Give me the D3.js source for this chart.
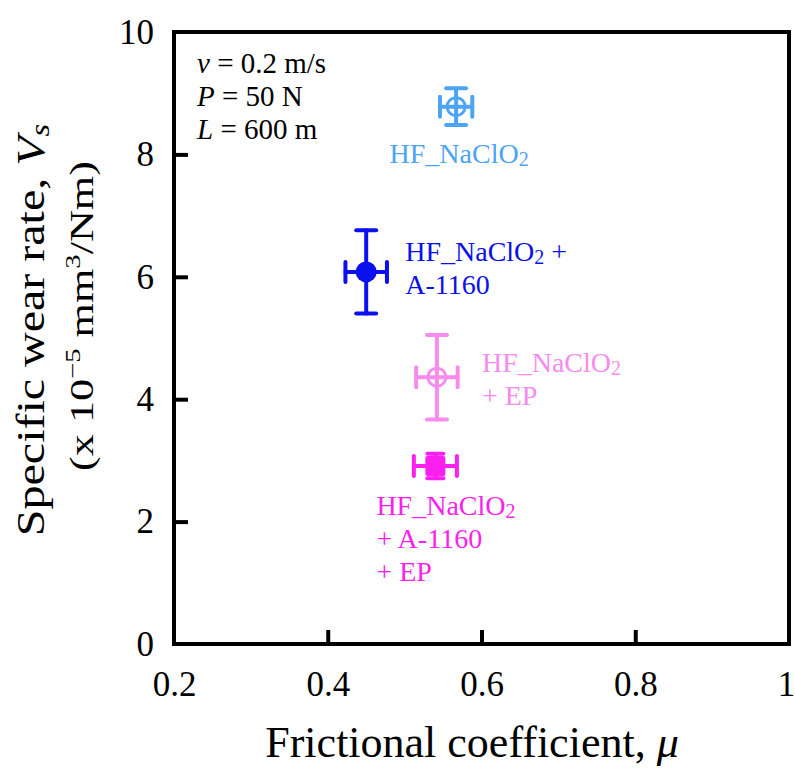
<!DOCTYPE html>
<html><head><meta charset="utf-8">
<script src="https://cdn.jsdelivr.net/npm/d3@7"></script>
<style>html,body{margin:0;padding:0;background:#fff;}svg{display:block;}</style>
</head><body>
<script>
// ---- data ----
const samples = ["HF_NaClO2", "HF_NaClO2 + A-1160", "HF_NaClO2 + EP", "HF_NaClO2 + A-1160 + EP"];
const mu = [0.567, 0.450, 0.542, 0.540];
const muErr = [0.021, 0.027, 0.027, 0.028];
const vs = [8.78, 6.08, 4.36, 2.91];
const vsErr = [0.30, 0.68, 0.69, 0.20];
const markerType = ["openCircle", "filledCircle", "openCircle", "filledSquare"];
const colors = ["#4ca4f4", "#0a10ee", "#f78bee", "#fb1ff0"];
const labelLines = [["HF_NaClO2"], ["HF_NaClO2 +", "A-1160"], ["HF_NaClO2", "+ EP"], ["HF_NaClO2", "+ A-1160", "+ EP"]];
const xTicks = [0.2, 0.4, 0.6, 0.8, 1];
const yTicks = [0, 2, 4, 6, 8, 10];
const conditions = [["v", " = 0.2 m/s"], ["P", " = 50 N"], ["L", " = 600 m"]];

// ---- layout ----
const FONT = "'Liberation Serif', 'Times New Roman', serif";
const W = 795, H = 769;
const svg = d3.select("body").append("svg").attr("width", W).attr("height", H).style("font-family", FONT);
const x = d3.scaleLinear().domain([0.2, 1]).range([174, 789]);
const y = d3.scaleLinear().domain([0, 10]).range([644, 32]);
const axisW = 4;

// frame
svg.append("rect").attr("x", x(0.2)).attr("y", y(10)).attr("width", x(1) - x(0.2)).attr("height", y(0) - y(10))
  .attr("fill", "none").attr("stroke", "#000").attr("stroke-width", axisW);

// axes
const xAxis = svg.append("g").attr("transform", `translate(0,${y(0)})`)
  .call(d3.axisBottom(x).tickValues(xTicks).tickSize(-14).tickPadding(27).tickFormat(d => d3.format("")(d)));
const yAxis = svg.append("g").attr("transform", `translate(${x(0.2)},0)`)
  .call(d3.axisLeft(y).tickValues(yTicks).tickSize(-14).tickPadding(20));
[xAxis, yAxis].forEach(g => {
  g.attr("font-family", null).attr("font-size", null);
  g.select(".domain").remove();
  g.selectAll(".tick line").attr("stroke", "#000").attr("stroke-width", axisW);
  g.selectAll(".tick text").attr("fill", "#000").style("font-size", "35px").style("font-family", FONT);
});
xAxis.selectAll(".tick text").attr("dy", "0.71em").filter(d => d === 1).attr("dx", -3);
// ticks at the frame ends coincide with the frame
xAxis.selectAll(".tick line").filter(d => d === 0.2 || d === 1).remove();
yAxis.selectAll(".tick line").filter(d => d === 0 || d === 10).remove();

// axis titles
const xt = svg.append("text").attr("x", 472).attr("y", 757).attr("text-anchor", "middle").style("font-size", "44px");
xt.append("tspan").text("Frictional coefficient, ");
xt.append("tspan").attr("font-style", "italic").text("μ");

const yt = svg.append("text").attr("transform", "translate(44,330) rotate(-90) scale(1.2,1)").attr("text-anchor", "middle").style("font-size", "40px");
yt.append("tspan").text("Specific wear rate, ");
yt.append("tspan").attr("font-style", "italic").text("V");
yt.append("tspan").attr("font-style", "italic").attr("font-size", "27px").attr("dy", 5).text("s");

const ys = svg.append("text").attr("transform", "translate(93,316) rotate(-90) scale(1.3,1)").attr("text-anchor", "middle").style("font-size", "34px");
ys.append("tspan").text("(x 10");
ys.append("tspan").attr("font-size", "22px").attr("dy", -13).text("−5");
ys.append("tspan").attr("dy", 13).text(" mm");
ys.append("tspan").attr("font-size", "22px").attr("dy", -13).text("3");
ys.append("tspan").attr("dy", 13).text("/Nm)");

// test conditions
conditions.forEach((c, i) => {
  const t = svg.append("text").attr("x", 197).attr("y", 73 + i * 33).style("font-size", "29px").attr("fill", "#000");
  t.append("tspan").attr("font-style", "italic").text(c[0]);
  t.append("tspan").text(c[1]);
});

// data points
const capHalf = 10;
samples.forEach((s, i) => {
  const g = svg.append("g").attr("stroke", colors[i]).attr("fill", colors[i]);
  const cx = x(mu[i]), cy = y(vs[i]);
  const x0 = x(mu[i] - muErr[i]), x1 = x(mu[i] + muErr[i]);
  const y0 = y(vs[i] - vsErr[i]), y1 = y(vs[i] + vsErr[i]);
  const ln = (a, b, c, d) => g.append("line").attr("x1", a).attr("y1", b).attr("x2", c).attr("y2", d)
    .attr("stroke-width", 4).attr("stroke-linecap", "round");
  ln(x0, cy, x1, cy);
  ln(cx, y0, cx, y1);
  const ch = markerType[i] === "filledSquare" ? 8 : capHalf;
  ln(x0, cy - capHalf, x0, cy + capHalf);
  ln(x1, cy - capHalf, x1, cy + capHalf);
  ln(cx - ch, y0, cx + ch, y0);
  ln(cx - ch, y1, cx + ch, y1);
  if (markerType[i] === "openCircle") {
    g.append("circle").attr("cx", cx).attr("cy", cy).attr("r", 9).attr("fill", "none").attr("stroke-width", 3);
  } else if (markerType[i] === "filledCircle") {
    g.append("circle").attr("cx", cx).attr("cy", cy).attr("r", 10.5).attr("stroke", "none");
  } else {
    g.append("rect").attr("x", cx - 10).attr("y", cy - 10).attr("width", 20).attr("height", 20).attr("rx", 2).attr("stroke", "none");
  }
});

// labels (offsets from each point)
const labelPos = [
  {dx: 3, dy: 56, anchor: "middle"},
  {dx: 39, dy: -11, anchor: "start"},
  {dx: 45, dy: -5, anchor: "start"},
  {dx: -59, dy: 49, anchor: "start"}
];
function addLine(t, str) {
  const k = str.indexOf("NaClO2");
  if (k < 0) { t.append("tspan").text(str); return; }
  t.append("tspan").text(str.slice(0, k + 5));
  t.append("tspan").attr("font-size", "20px").attr("dy", 3).text("2");
  const rest = str.slice(k + 6);
  if (rest.length) t.append("tspan").attr("dy", -3).text(rest);
}
samples.forEach((s, i) => {
  const p = labelPos[i];
  labelLines[i].forEach((line, j) => {
    const t = svg.append("text").attr("x", x(mu[i]) + p.dx).attr("y", y(vs[i]) + p.dy + j * 33)
      .attr("text-anchor", p.anchor).attr("fill", colors[i]).style("font-size", "28px");
    addLine(t, line);
  });
});
</script>
</body></html>
